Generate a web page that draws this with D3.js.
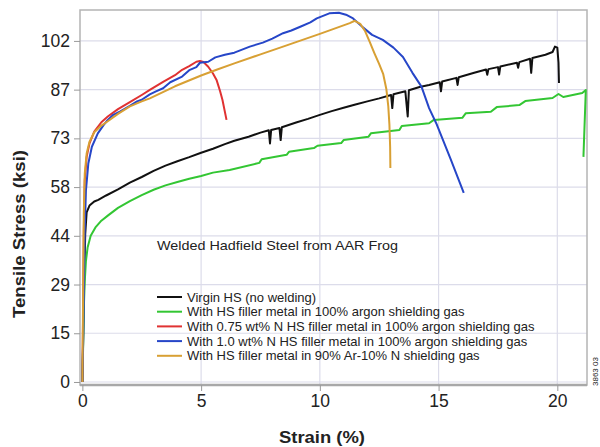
<!DOCTYPE html>
<html>
<head>
<meta charset="utf-8">
<script src="https://cdn.jsdelivr.net/npm/d3@7"></script>
<style>
  body { margin: 0; background: #fff; }
  text { font-family: "Liberation Sans", Arial, sans-serif; fill: #222; }
</style>
</head>
<body>
<script>
// tick values are 100 MPa steps expressed in ksi, labels as printed
const yTicks = [0, 14.5, 29, 43.5, 58, 72.5, 87, 101.5];
const yLabels = ["0", "15", "29", "44", "58", "73", "87", "102"];
const xTicks = [0, 5, 10, 15, 20];

const seriesNames = [
  "Virgin HS (no welding)",
  "With HS filler metal in 100% argon shielding gas",
  "With 0.75 wt% N HS filler metal in 100% argon shielding gas",
  "With 1.0 wt% N HS filler metal in 100% argon shielding gas",
  "With HS filler metal in 90% Ar-10% N shielding gas"
];

// [strain %, stress ksi]
const virginHS = [[0,0],[0.04,15],[0.08,32],[0.12,44],[0.18,50.5],[0.3,52.5],[0.5,53.7],[0.67,54.2],[1.0,55.5],
  [1.5,57.3],[2.0,59.3],[2.5,61],[3.0,62.8],[3.5,64.4],[4.0,65.7],[4.5,66.9],[5.0,68.2],[5.5,69.4],[6.0,70.8],
  [6.4,71.8],[7.0,73],[7.5,74.2],[7.85,74.9],[7.9,71],[7.95,75],[8.3,75.6],[8.35,72],[8.4,75.8],[9.0,77.2],
  [9.5,78.3],[10.0,79.5],[10.5,80.6],[11.0,81.6],[11.5,82.6],[12.0,83.5],[12.5,84.4],[13.0,85.4],[13.05,81.5],
  [13.1,85.6],[13.6,86.5],[13.7,79],[13.75,86.8],[14.2,87.8],[14.6,88.4],[15.05,89.2],[15.1,86.5],[15.15,89.4],
  [15.75,90.5],[15.8,88.4],[15.85,90.7],[16.5,92],[17.0,93],[17.05,91.4],[17.1,93.1],[17.5,93.7],[17.55,91.5],
  [17.6,93.9],[18.3,95],[18.35,93.5],[18.4,95.2],[18.85,96.2],[18.9,92],[18.95,96.4],[19.5,97.4],[19.8,98.2],
  [19.9,99.8],[20.0,99.5],[20.05,95],[20.07,89]];

const hsArgon = [[0,0],[0.03,10],[0.06,22],[0.1,30],[0.15,36],[0.22,40],[0.35,43.5],[0.55,46],[0.8,48],[1.07,49.5],
  [1.5,51.8],[2.0,53.8],[2.5,55.6],[3.0,57.2],[3.5,58.5],[4.0,59.5],[4.5,60.5],[5.0,61.3],[5.5,62.3],[6.2,63.1],
  [7.45,65.2],[7.55,66.3],[8.6,67.6],[8.7,68.5],[9.75,69.6],[9.9,70.3],[10.9,71.1],[11.0,72],[12.05,73],
  [12.15,74],[13.35,75],[13.45,76.2],[14.6,77],[14.8,78],[16.0,78.6],[16.15,80],[17.2,80.4],[17.45,81.8],
  [18.4,82.4],[18.65,83.6],[19.8,84.5],[20.05,85.7],[20.25,84.8],[21.05,86],[21.2,86.9],[21.1,67]];

const n075Argon = [[0,0],[0.03,20],[0.06,45],[0.1,60],[0.18,67],[0.3,71],[0.5,74.5],[0.8,77.3],[1.07,79],
  [1.5,81.2],[2.0,83.3],[2.5,85.4],[2.84,86.9],[3.4,89.3],[3.9,91.3],[4.2,92.9],[4.5,94],[4.8,95.3],
  [4.95,95.5],[5.1,95.2],[5.3,93.8],[5.5,91.8],[5.65,89.9],[5.8,86.5],[5.9,83.9],[6.07,78]];

const n10Argon = [[0,0],[0.05,20],[0.1,45],[0.15,57],[0.25,65],[0.4,70],[0.65,74],[0.9,76.5],[1.07,78],
  [1.3,79.5],[1.6,80.5],[2.0,82.2],[2.3,83.5],[2.5,84],[2.84,85.6],[3.1,86.5],[3.4,87.4],[3.7,89.2],[4.2,90.9],
  [4.5,92.8],[4.8,93.7],[4.95,95],[5.3,95.3],[5.6,96.6],[6.0,97.4],[6.4,98],[7.05,99.8],[7.6,101],[8.0,102.2],
  [8.45,103.8],[8.8,104.6],[9.2,105.8],[9.6,107],[9.87,108.2],[10.4,109.7],[10.8,109.9],[11.1,109.3],
  [11.4,108.2],[11.8,105.6],[12.2,103.3],[12.65,101.8],[13.1,99.5],[13.5,96.7],[13.9,92],[14.28,87.9],
  [14.6,81.5],[14.9,77],[15.5,66.5],[16.06,56.3]];

const hsArN = [[0,0],[0.03,25],[0.06,50],[0.1,62],[0.18,68],[0.3,71.5],[0.5,74.3],[0.8,76.3],[1.07,77.6],
  [1.5,79.8],[2.0,82],[2.5,83.5],[2.84,84.4],[3.9,88],[5.0,91.2],[5.65,92.9],[6.4,94.8],[7.5,97.5],
  [8.45,99.8],[10.0,103.6],[11.26,106.8],[11.47,107.5],[11.7,106.6],[11.9,104.5],[12.1,101.2],[12.3,97.8],
  [12.5,94.6],[12.67,91.6],[12.8,87.2],[12.88,82.2],[12.93,76.5],[12.96,70],[12.97,63.7]];

const allSeries = [virginHS, hsArgon, n075Argon, n10Argon, hsArN];

const width = 600, height = 447;
const margin = {top: 10, right: 13, bottom: 62, left: 80};

const svg = d3.select("body")
  .append("svg")
  .attr("width", width)
  .attr("height", height);

const x = d3.scaleLinear()
  .domain([-0.1, 21.25])
  .range([margin.left, width - margin.right]);

const y = d3.scaleLinear()
  .domain([-0.9, 110.7])
  .range([height - margin.bottom, margin.top]);

const color = d3.scaleOrdinal()
  .domain(seriesNames)
  .range(["#111111", "#33c633", "#e03232", "#2646c8", "#d8a034"]);

// grid
svg.append("g")
  .selectAll("line")
  .data(yTicks)
  .join("line")
    .attr("x1", margin.left).attr("x2", width - margin.right)
    .attr("y1", d => y(d)).attr("y2", d => y(d))
    .attr("stroke", "#dcdcea").attr("stroke-width", 1.2);

svg.append("g")
  .selectAll("line")
  .data(xTicks.slice(1))
  .join("line")
    .attr("x1", d => x(d)).attr("x2", d => x(d))
    .attr("y1", margin.top).attr("y2", height - margin.bottom)
    .attr("stroke", "#dcdcea").attr("stroke-width", 1.2);

// frame
svg.append("rect")
  .attr("x", margin.left).attr("y", margin.top)
  .attr("width", width - margin.left - margin.right)
  .attr("height", height - margin.top - margin.bottom)
  .attr("fill", "none").attr("stroke", "#b4b4b4").attr("stroke-width", 1.5);

svg.append("line")
  .attr("x1", margin.left).attr("x2", width - margin.right)
  .attr("y1", height - margin.bottom).attr("y2", height - margin.bottom)
  .attr("stroke", "#a8a8a8").attr("stroke-width", 2.5);

// axes
const yAxis = svg.append("g")
  .attr("transform", `translate(${margin.left}, 0)`)
  .call(d3.axisLeft(y).tickValues(yTicks).tickFormat((d, i) => yLabels[i]).tickSize(6).tickPadding(4));

const xAxis = svg.append("g")
  .attr("transform", `translate(0, ${height - margin.bottom})`)
  .call(d3.axisBottom(x).tickValues(xTicks).tickSize(6).tickPadding(4));

[yAxis, xAxis].forEach(a => {
  a.select(".domain").remove();
  a.selectAll(".tick line").attr("stroke", "#999");
  a.selectAll(".tick text")
    .style("font-family", "'Liberation Sans', Arial, sans-serif")
    .style("font-size", "17.5px")
    .attr("fill", "#222");
});

// curves
const line = d3.line()
  .x(d => x(d[0]))
  .y(d => y(d[1]));

svg.append("g")
  .selectAll("path")
  .data(allSeries)
  .join("path")
    .attr("d", line)
    .attr("fill", "none")
    .attr("stroke", (d, i) => color(seriesNames[i]))
    .attr("stroke-width", 2)
    .attr("stroke-linejoin", "round");

// axis titles
svg.append("text")
  .attr("x", 322).attr("y", 443)
  .attr("text-anchor", "middle")
  .style("font-size", "17px").style("font-weight", "bold")
  .attr("textLength", 86).attr("lengthAdjust", "spacingAndGlyphs")
  .text("Strain (%)");

svg.append("text")
  .attr("transform", "translate(25, 234) rotate(-90)")
  .attr("text-anchor", "middle")
  .style("font-size", "17px").style("font-weight", "bold")
  .attr("textLength", 168).attr("lengthAdjust", "spacingAndGlyphs")
  .text("Tensile Stress (ksi)");

// chart title
svg.append("text")
  .attr("x", 157).attr("y", 250)
  .style("font-size", "13.5px")
  .attr("textLength", 241).attr("lengthAdjust", "spacingAndGlyphs")
  .text("Welded Hadfield Steel from AAR Frog");

// legend
const legend = svg.append("g")
  .selectAll("g")
  .data(seriesNames)
  .join("g")
    .attr("transform", (d, i) => `translate(157, ${297 + i * 14.7})`);

legend.append("line")
  .attr("x1", 0).attr("x2", 25)
  .attr("stroke", d => color(d)).attr("stroke-width", 2);

legend.append("text")
  .attr("x", 30).attr("y", 0)
  .attr("dy", "0.35em")
  .style("font-size", "13px")
  .text(d => d);

// figure code
svg.append("text")
  .attr("transform", "translate(598, 386) rotate(-90)")
  .style("font-size", "8px")
  .attr("fill", "#333")
  .text("3863 03");
</script>
</body>
</html>
